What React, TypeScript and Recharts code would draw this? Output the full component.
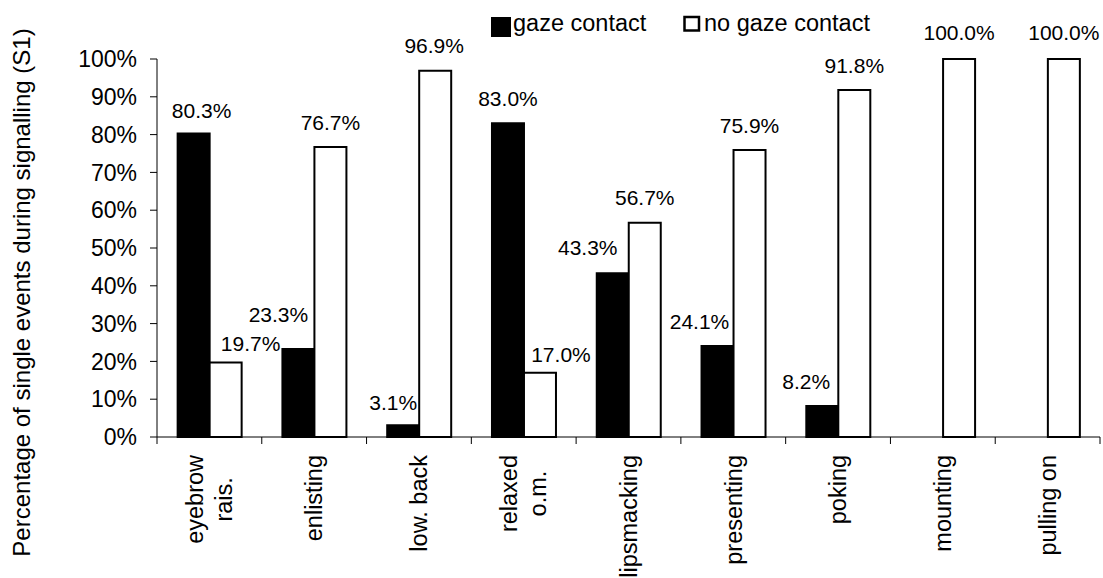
import React from "react";
import {
  BarChart,
  Bar,
  XAxis,
  YAxis,
  Legend,
  LabelList,
} from "recharts";

const categories = [
  "eyebrow\nrais.",
  "enlisting",
  "low. back",
  "relaxed\no.m.",
  "lipsmacking",
  "presenting",
  "poking",
  "mounting",
  "pulling on",
];
const gazeContact = [80.3, 23.3, 3.1, 83.0, 43.3, 24.1, 8.2, 0, 0];
const noGazeContact = [19.7, 76.7, 96.9, 17.0, 56.7, 75.9, 91.8, 100.0, 100.0];
const yTicks = [0, 10, 20, 30, 40, 50, 60, 70, 80, 90, 100];
const seriesNames = ["gaze contact", "no gaze contact"];
const yTitle = "Percentage of single events during signalling (S1)";

// hand-placed label nudges from the original (x shift, gap above bar)
const gazeLabelDx = [8, -20, -10, 0, -25, -18, -16, 0, 0];
const gazeLabelGap = [15, 27, 15, 17, 18, 17, 17, 17, 17];
const noGazeLabelDx = [25, 0, -1, 21, 0, 0, 0, 0, 0];
const noGazeLabelGap = [12, 17, 18, 11, 18, 17, 17, 19, 19];

const data = categories.map((name, i) => ({
  name,
  gaze: gazeContact[i],
  noGaze: noGazeContact[i],
}));

const W = 1103;
const H = 578;
const FONT = '"Liberation Sans", Arial, sans-serif';
const margin = { top: 19, right: 3, left: 0, bottom: 0 };
const Y_AXIS_W = 157;
const X_AXIS_H = 141;
const LEGEND_H = 40;
const band = (W - margin.left - margin.right - Y_AXIS_W) / categories.length;

let canvas: HTMLCanvasElement | null = null;
function textWidth(s: string, size: number) {
  if (!canvas) canvas = document.createElement("canvas");
  const ctx = canvas.getContext("2d")!;
  ctx.font = `${size}px "Liberation Sans", Arial, sans-serif`;
  return ctx.measureText(s).width;
}

function CategoryTick(props: any) {
  const { x, y, payload, index } = props;
  const lines = String(payload.value).split("\n");
  const size = 23.5;
  const maxW = Math.max(...lines.map((l) => textWidth(l, size)));
  const top = y + 18;
  const lh = 29;
  return (
    <g>
      <line x1={x + band / 2} y1={y} x2={x + band / 2} y2={y + 7} stroke="#000" />
      {index === 0 && (
        <line x1={x - band / 2} y1={y} x2={x - band / 2} y2={y + 7} stroke="#000" />
      )}
      <g transform={`translate(${x},${top}) rotate(-90)`}>
        {lines.map((l, i) => (
          <text
            key={i}
            x={-maxW / 2}
            y={(i - (lines.length - 1) / 2) * lh + size * 0.35}
            textAnchor="middle"
            fontSize={size}
            fontFamily={FONT}
            fill="#000"
          >
            {l}
          </text>
        ))}
      </g>
    </g>
  );
}

const makeLabel = (dxs: number[], gaps: number[]) => (props: any) => {
  const { x, y, width, value, index } = props;
  if (!value) return null;
  return (
    <text
      x={Number(x) + Number(width) / 2 + dxs[index]}
      y={Number(y) - gaps[index]}
      textAnchor="middle"
      fontSize={21}
      fontFamily={FONT}
      fill="#000"
    >
      {Number(value).toFixed(1)}%
    </text>
  );
};

function LegendBox() {
  return (
    <div style={{ width: W, height: LEGEND_H }}>
      <svg width={W} height={LEGEND_H} style={{ display: "block" }}>
        <rect x={491} y={17} width={20} height={20} fill="#000" />
        <text x={513} y={31} fontSize={23.5} fontFamily={FONT} fill="#000">
          {seriesNames[0]}
        </text>
        <rect x={684.5} y={17} width={14.5} height={13.5} fill="#fff" stroke="#000" strokeWidth={2.5} />
        <text x={704} y={31} fontSize={23.5} fontFamily={FONT} fill="#000">
          {seriesNames[1]}
        </text>
      </svg>
    </div>
  );
}

export default function App() {
  return (
    <div style={{ position: "absolute", left: 0, top: 0, width: W, height: H, background: "#fff" }}>
      <BarChart
        width={W}
        height={H}
        data={data}
        margin={margin}
        barCategoryGap="19.7%"
        barGap={0}
      >
        <Legend
          verticalAlign="top"
          content={() => <LegendBox />}
          wrapperStyle={{ top: 0, left: 0, width: W, height: LEGEND_H }}
        />
        <XAxis
          dataKey="name"
          interval={0}
          height={X_AXIS_H}
          tickSize={0}
          tickMargin={0}
          tickLine={false}
          axisLine={{ stroke: "#000", strokeWidth: 1 }}
          tick={<CategoryTick />}
        />
        <YAxis
          width={Y_AXIS_W}
          domain={[0, 100]}
          ticks={yTicks}
          interval={0}
          tickFormatter={(v) => `${v}%`}
          tickSize={7}
          tickMargin={13}
          axisLine={{ stroke: "#000", strokeWidth: 1 }}
          tickLine={{ stroke: "#000", strokeWidth: 1 }}
          tick={{ fontSize: 23, fontFamily: FONT, fill: "#000" }}
          label={{
            content: () => (
              <text
                transform="translate(30,292.5) rotate(-90)"
                textAnchor="middle"
                fontSize={24}
                fontFamily={FONT}
                fill="#000"
              >
                {yTitle}
              </text>
            ),
          }}
        />
        <Bar
          dataKey="gaze"
          name={seriesNames[0]}
          fill="#000"
          stroke="#000"
          strokeWidth={2}
          isAnimationActive={false}
        >
          <LabelList dataKey="gaze" content={makeLabel(gazeLabelDx, gazeLabelGap)} />
        </Bar>
        <Bar
          dataKey="noGaze"
          name={seriesNames[1]}
          fill="#fff"
          stroke="#000"
          strokeWidth={2}
          isAnimationActive={false}
        >
          <LabelList dataKey="noGaze" content={makeLabel(noGazeLabelDx, noGazeLabelGap)} />
        </Bar>
      </BarChart>
    </div>
  );
}
